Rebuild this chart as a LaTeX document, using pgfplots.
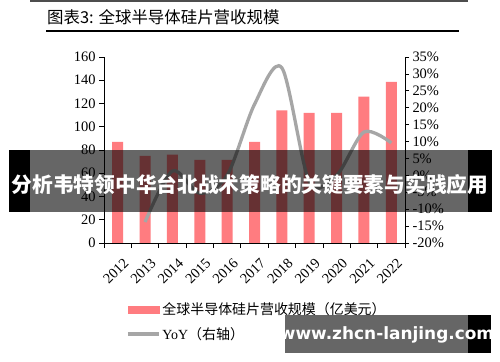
\documentclass[border=0pt]{standalone}
\usepackage{pgfplots}
\pgfplotsset{compat=1.18}
\usepackage{fontspec}
\setmainfont{Liberation Serif}
\newfontfamily\cjk{Noto Sans CJK SC}
\newfontfamily\bansans{DejaVu Sans}
\definecolor{barpink}{HTML}{FF7C80}
\definecolor{linegray}{HTML}{A6A6A6}
\definecolor{topgray}{HTML}{4D4D4D}
\begin{document}
\begin{tikzpicture}
\path[use as bounding box] (0bp,0bp) rectangle (500bp,362bp);
\fill[white] (0bp,0bp) rectangle (500bp,362bp);
% top line and title
\fill[topgray] (30bp,362bp) rectangle (468bp,359.5bp);
\node[anchor=west, inner sep=0pt] at (47bp,345bp) {\fontsize{16.5}{18}\cjk 图表3: 全球半导体硅片营收规模};
\draw[line width=1.3bp] (46bp,331bp) -- (459bp,331bp);

\begin{axis}[
  at={(104bp,119bp)}, anchor=south west,
  width=301bp, height=186bp, scale only axis,
  xmin=-0.5, xmax=10.5, ymin=0, ymax=160,
  axis x line*=bottom, axis y line*=left,
  axis line style={-, black, line width=0.8pt},
  ytick={0,20,...,160},
  xtick={0,...,10},
  xticklabels={2012,2013,2014,2015,2016,2017,2018,2019,2020,2021,2022},
  minor xtick={-0.5,0.5,...,10.5},
  major x tick style={draw=none},
  tick align=outside,
  tick style={black, line width=0.8pt},
  major tick length=5bp, minor tick length=5bp,
  x tick label style={rotate=45, anchor=north east, inner sep=0pt, xshift=-3bp, yshift=-10bp, font=\fontsize{14.5}{16}\selectfont},
  y tick label style={font=\fontsize{14.5}{16}\selectfont},
  /pgf/number format/assume math mode=true,
  ybar, bar width=11bp,
]
\addplot[fill=barpink, draw=none] coordinates {
(0,87) (1,75) (2,76) (3,71.5) (4,71.5) (5,87) (6,114) (7,112) (8,112) (9,126) (10,138.5)};
\end{axis}

\begin{axis}[
  at={(104bp,119bp)}, anchor=south west,
  width=301bp, height=186bp, scale only axis,
  xmin=-0.5, xmax=10.5, ymin=-20, ymax=35,
  axis x line=none, axis y line*=right,
  axis line style={-, black, line width=0.8pt},
  ytick={-20,-15,...,35},
  yticklabels={-20\%,-15\%,-10\%,-5\%,0\%,5\%,10\%,15\%,20\%,25\%,30\%,35\%},
  tick align=outside,
  tick style={black, line width=0.8pt},
  major tick length=4bp,
  y tick label style={font=\fontsize{14.5}{16}\selectfont},
  legend style={at={(0.073,-0.31)}, anchor=north west, draw=none, fill=none,
    inner sep=0pt, row sep=7bp, font=\fontsize{14}{17}\selectfont,
    cells={anchor=west}},
]
\addlegendimage{legend image code/.code={\fill[barpink] (0bp,-3.5bp) rectangle (31bp,3.5bp);}}
\addlegendentry{\cjk 全球半导体硅片营收规模（亿美元）}
\addplot[smooth, color=linegray, line width=3.3bp,
  legend image code/.code={\draw[linegray, line width=3.3bp] (0bp,0bp) -- (31bp,0bp);}]
coordinates {(1,-13.8) (2,1.3) (3,-5.3) (4,0) (5,21) (6,31.8) (7,-1.8) (8,0) (9,12.8) (10,9.6)};
\addlegendentry{YoY{\cjk（右轴）}}
\end{axis}

% overlay banner
\fill[black] (9bp,212bp) rectangle (30bp,150bp);
\fill[black] (468bp,212bp) rectangle (492bp,150bp);
\fill[black, fill opacity=0.6] (30bp,212bp) rectangle (468bp,150bp);
\node[text=white, inner sep=0pt] at (250bp,177bp) {\fontsize{20.8}{22}\cjk\bfseries 分析韦特领中华台北战术策略的关键要素与实践应用};
% watermark
\fill[black, fill opacity=0.6] (285bp,47bp) rectangle (468bp,9bp);
\fill[black] (468bp,47bp) rectangle (491bp,9bp);
\node[text=white, inner sep=0pt] at (387bp,27bp) {\fontsize{17}{18}\bansans\bfseries www.zhcn-lanjing.com};
\end{tikzpicture}
\end{document}
